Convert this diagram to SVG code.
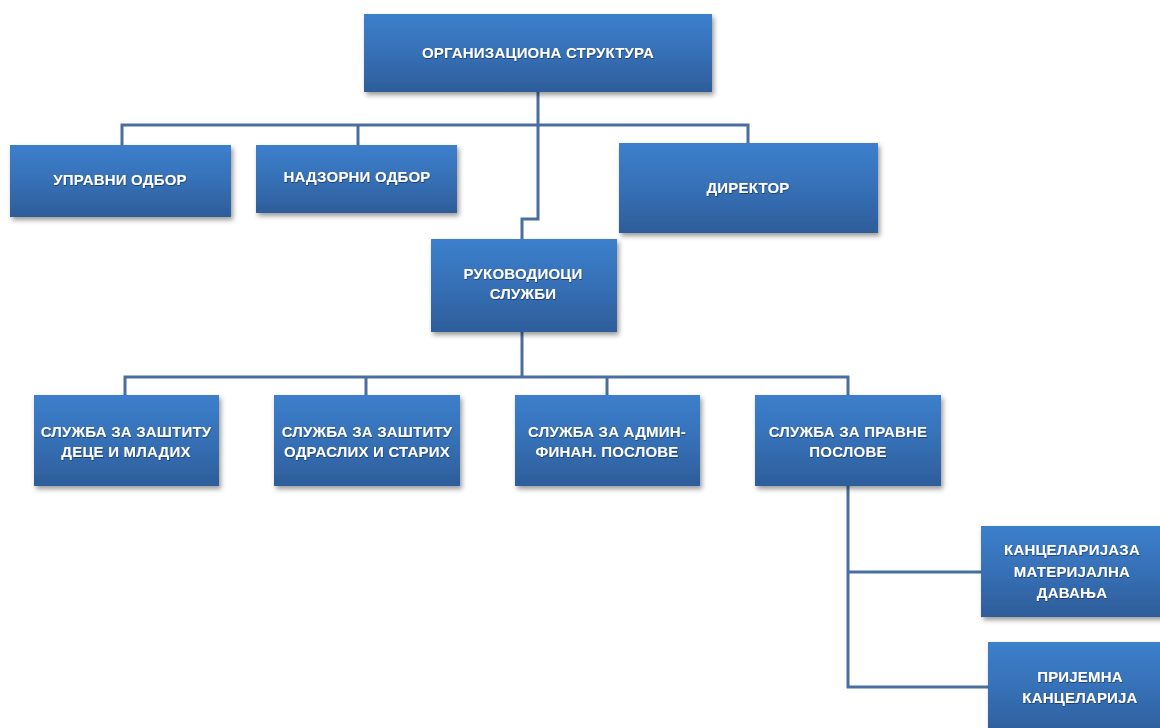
<svg xmlns="http://www.w3.org/2000/svg" width="1160" height="728" viewBox="0 0 1160 728">
<defs>
<linearGradient id="g" x1="0" y1="0" x2="0" y2="1">
<stop offset="0" stop-color="#3c7fcc"/>
<stop offset="0.5" stop-color="#3670b6"/>
<stop offset="1" stop-color="#2d5d9a"/>
</linearGradient>
<filter id="sh" x="-10%" y="-10%" width="125%" height="130%">
<feDropShadow dx="2" dy="3" stdDeviation="2.5" flood-color="#000" flood-opacity="0.4"/>
</filter>
<filter id="ts" x="-5%" y="-20%" width="110%" height="150%">
<feDropShadow dx="0.5" dy="1" stdDeviation="0.6" flood-color="#0a2040" flood-opacity="0.6"/>
</filter>
</defs>
<style>
.box{fill:url(#g);filter:url(#sh);}
.t{font-family:"Liberation Sans",Arial,sans-serif;font-weight:bold;font-size:15px;fill:#ffffff;text-anchor:middle;letter-spacing:0.2px;filter:url(#ts);}
.c{fill:none;stroke:#4a6f9e;stroke-width:3;}
</style>
<rect width="1160" height="728" fill="#ffffff"/>
<g id="connectors">
<path class="c" d="M122,145 V125 H748 V143"/>
<path class="c" d="M358,145 V125"/>
<path class="c" d="M538,92 V219 H522 V239"/>
<path class="c" d="M522,332 V377"/>
<path class="c" d="M125,395 V377 H848 V395"/>
<path class="c" d="M366,395 V377"/>
<path class="c" d="M607,395 V377"/>
<path class="c" d="M848,486 V687 H988"/>
<path class="c" d="M848,572 H981"/>
</g>
<g id="root">
<rect class="box" x="364" y="14" width="348" height="78"/>
<text class="t" x="538" y="58">ОРГАНИЗАЦИОНА СТРУКТУРА</text>
</g>
<g id="upravni">
<rect class="box" x="10" y="145" width="221" height="72"/>
<text class="t" x="120" y="185">УПРАВНИ ОДБОР</text>
</g>
<g id="nadzorni">
<rect class="box" x="256" y="145" width="201" height="68"/>
<text class="t" x="357" y="182">НАДЗОРНИ ОДБОР</text>
</g>
<g id="direktor">
<rect class="box" x="619" y="143" width="259" height="90"/>
<text class="t" x="748" y="193">ДИРЕКТОР</text>
</g>
<g id="rukovodioci">
<rect class="box" x="431" y="239" width="186" height="93"/>
<text class="t" x="523" y="279">РУКОВОДИОЦИ</text>
<text class="t" x="523" y="299">СЛУЖБИ</text>
</g>
<g id="sluzba1">
<rect class="box" x="34" y="395" width="185" height="91"/>
<text class="t" x="126" y="437">СЛУЖБА ЗА ЗАШТИТУ</text>
<text class="t" x="126" y="457">ДЕЦЕ И МЛАДИХ</text>
</g>
<g id="sluzba2">
<rect class="box" x="274" y="395" width="186" height="91"/>
<text class="t" x="367" y="437">СЛУЖБА ЗА ЗАШТИТУ</text>
<text class="t" x="367" y="457">ОДРАСЛИХ И СТАРИХ</text>
</g>
<g id="sluzba3">
<rect class="box" x="515" y="395" width="185" height="91"/>
<text class="t" x="607" y="437">СЛУЖБА ЗА АДМИН-</text>
<text class="t" x="607" y="457">ФИНАН. ПОСЛОВЕ</text>
</g>
<g id="sluzba4">
<rect class="box" x="755" y="395" width="186" height="91"/>
<text class="t" x="848" y="437">СЛУЖБА ЗА ПРАВНЕ</text>
<text class="t" x="848" y="457">ПОСЛОВЕ</text>
</g>
<g id="kancelarija">
<rect class="box" x="981" y="526" width="185" height="91"/>
<text class="t" x="1072" y="555">КАНЦЕЛАРИЈАЗА</text>
<text class="t" x="1072" y="577">МАТЕРИЈАЛНА</text>
<text class="t" x="1072" y="598">ДАВАЊА</text>
</g>
<g id="prijemna">
<rect class="box" x="988" y="642" width="185" height="95"/>
<text class="t" x="1080" y="682">ПРИЈЕМНА</text>
<text class="t" x="1080" y="703">КАНЦЕЛАРИЈА</text>
</g>
</svg>
